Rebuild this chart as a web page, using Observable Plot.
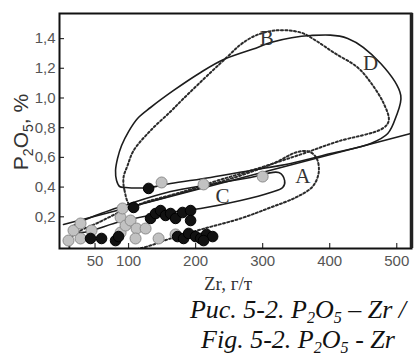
<!DOCTYPE html>
<html><head><meta charset="utf-8">
<script src="https://cdn.jsdelivr.net/npm/d3@7"></script>
<script src="https://cdn.jsdelivr.net/npm/@observablehq/plot@0.6"></script>
<style>
body{margin:0;background:#fff;}
#wrap{position:relative;width:415px;height:356px;overflow:hidden;background:#fff;}
#cap{position:absolute;left:179px;width:238px;top:296px;text-align:center;font:italic 26px/27px "Liberation Serif","Times New Roman",serif;color:#111;white-space:nowrap;}
#cap .s{font-size:0.62em;position:relative;top:0.28em;}
</style></head>
<body><div id="wrap"><div id="chart"></div>
<div id="cap">Рис. 5-2. P<span class="s">2</span>O<span class="s">5</span> – Zr /<br>Fig. 5-2. P<span class="s">2</span>O<span class="s">5</span> - Zr</div></div>
<script>
// Tick values and labels
const xTicks = [50, 100, 200, 300, 400, 500];
const xTickLabels = ["50", "100", "200", "300", "400", "500"];
const yTicks = [0.2, 0.4, 0.6, 0.8, 1.0, 1.2, 1.4];
const yTickLabels = ["0,2", "0,4", "0,6", "0,8", "1,0", "1,2", "1,4"];

// Sample points (Zr, g/t ; P2O5, %)
const grayZr   = [10.4, 17.9, 28.4, 28.4, 44.8, 88.1, 91.0, 88.1, 95.5, 103.0, 111.9, 110.4, 125.4, 144.8, 149.3, 211.9, 300, 170.1];
const grayP2O5 = [0.040, 0.108, 0.155, 0.054, 0.108, 0.195, 0.256, 0.094, 0.141, 0.175, 0.121, 0.054, 0.121, 0.054, 0.431, 0.418, 0.471, 0.081];
const blackZr   = [43.3, 59.7, 80.6, 85.1, 107.5, 129.9, 132.8, 140.3, 147.8, 155.2, 162.7, 170.1, 180.6, 192.5, 192.5, 173.1, 182.1, 189.6, 200, 207.5, 216.4, 225.4, 211.9];
const blackP2O5 = [0.054, 0.054, 0.040, 0.067, 0.263, 0.391, 0.189, 0.222, 0.242, 0.209, 0.222, 0.189, 0.229, 0.242, 0.175, 0.067, 0.054, 0.088, 0.067, 0.054, 0.081, 0.067, 0.040];

// Field D (solid outline)
const fieldDZr = [86.6, 82.1, 80.6, 83.6, 89.6, 100, 113.4, 132.8, 167.2, 207.5, 241.8, 292.5, 311.9, 371.6, 426.9, 476.1, 506, 498.5, 486.6, 461.2, 401.5, 341.8, 282.1, 222.4, 162.7, 129.9, 95.5];
const fieldDP  = [0.404, 0.444, 0.512, 0.593, 0.680, 0.774, 0.862, 0.936, 1.051, 1.172, 1.259, 1.340, 1.374, 1.421, 1.401, 1.232, 1.017, 0.869, 0.761, 0.694, 0.626, 0.559, 0.512, 0.465, 0.424, 0.397, 0.397];
// Field B (dotted outline)
const fieldBZr = [103.0, 94.0, 92.5, 98.5, 107.5, 132.8, 162.7, 182.1, 222.4, 247.8, 267.2, 289.6, 319.4, 356.7, 379.1, 406.0, 441.8, 461.2, 480.6, 488.1, 479.1, 411.9, 356.7, 292.5, 232.8, 182.1, 132.8];
const fieldBP  = [0.276, 0.377, 0.465, 0.545, 0.646, 0.781, 0.909, 0.997, 1.172, 1.279, 1.360, 1.421, 1.455, 1.441, 1.387, 1.306, 1.205, 1.104, 0.963, 0.848, 0.795, 0.707, 0.620, 0.525, 0.444, 0.370, 0.310];
// Field A (dotted outline)
const fieldAZr = [16.4, 58.2, 103.0, 147.8, 207.5, 267.2, 319.4, 349.3, 368.7, 380.6, 383.6, 374.6, 349.3, 311.9, 267.2, 207.5, 162.7, 122.4, 58.2, 13.4];
const fieldAP  = [0.067, 0.168, 0.263, 0.323, 0.397, 0.478, 0.566, 0.633, 0.640, 0.593, 0.498, 0.404, 0.330, 0.263, 0.189, 0.114, 0.054, -0.007, -0.061, -0.027];
// Field C (solid outline)
const fieldCZr = [332.8, 323.9, 282.1, 222.4, 162.7, 103.0, 50.7, 20.9, 13.4, 28.4, 88.1, 147.8, 207.5, 267.2, 311.9, 329.9];
const fieldCP  = [0.444, 0.498, 0.465, 0.418, 0.370, 0.290, 0.209, 0.148, 0.121, 0.094, 0.168, 0.222, 0.256, 0.310, 0.364, 0.397];
// Trend line
const trendZr = [3, 521];
const trendP  = [0.148, 0.761];

// Field labels
const fieldNames = ["A", "B", "C", "D"];
const fieldLabelZr = [360, 306, 240, 461];
const fieldLabelP  = [0.471, 1.401, 0.337, 1.232];

const xDomain = [-3, 522];
const yDomain = [-0.0135, 1.569];

const pts = (xs, ys) => xs.map((x, i) => ({x, y: ys[i]}));
const labels = fieldNames.map((t, i) => ({t, x: fieldLabelZr[i], y: fieldLabelP[i]}));

const dotted = {x: "x", y: "y", curve: "catmull-rom-closed", stroke: "#2b2b2b", strokeWidth: 2, strokeDasharray: "2,2.3", clip: true};
const solid = {x: "x", y: "y", curve: "catmull-rom-closed", stroke: "#1c1c1c", strokeWidth: 1.6, clip: true};

const chart = Plot.plot({
  width: 415, height: 296,
  marginLeft: 59, marginRight: 4, marginTop: 13, marginBottom: 48,
  style: {fontFamily: "'Liberation Sans', Arial, sans-serif", fontSize: "15px", color: "#555", background: "#fff"},
  x: {domain: xDomain, ticks: xTicks, tickFormat: d => xTickLabels[xTicks.indexOf(d)], tickSize: 0, tickPadding: 7, label: null},
  y: {domain: yDomain, ticks: yTicks, tickFormat: d => yTickLabels[yTicks.indexOf(d)], tickSize: 0, tickPadding: 4, label: null},
  marks: [
    Plot.line(pts(fieldAZr, fieldAP), dotted),
    Plot.line(pts(fieldBZr, fieldBP), dotted),
    Plot.line(pts(fieldDZr, fieldDP), solid),
    Plot.line(pts(fieldCZr, fieldCP), solid),
    Plot.line(pts(trendZr, trendP), {x: "x", y: "y", stroke: "#1c1c1c", strokeWidth: 1.6, clip: true}),
    Plot.tickX(xTicks, {x: d => d, insetTop: 230, stroke: "#333", strokeWidth: 1.2}),
    Plot.tickY(yTicks, {y: d => d, insetRight: 347, stroke: "#333", strokeWidth: 1.2}),
    Plot.text(labels, {x: "x", y: "y", text: "t", fontFamily: "'Liberation Serif', 'Times New Roman', serif", fontSize: 21, fill: "#333"}),
    Plot.dot(pts(grayZr, grayP2O5), {x: "x", y: "y", r: 5.5, fill: "#c2c2c2", stroke: "#8c8c8c", strokeWidth: 1}),
    Plot.dot(pts(blackZr, blackP2O5), {x: "x", y: "y", r: 5.3, fill: "#121212", stroke: "#000", strokeWidth: 1}),
    Plot.frame({stroke: "#111", strokeWidth: 2}),
    Plot.ruleX([xDomain[1]], {stroke: "#222", strokeWidth: 3.5})
  ]
});

const svg = d3.select(chart);
const yl = svg.append("text")
  .attr("transform", "translate(28,132) rotate(-90)")
  .attr("text-anchor", "middle")
  .attr("fill", "#333")
  .style("font", "21px 'Liberation Sans', Arial, sans-serif");
yl.append("tspan").text("P");
yl.append("tspan").attr("dy", 5).style("font-size", "14px").text("2");
yl.append("tspan").attr("dy", -5).text("O");
yl.append("tspan").attr("dy", 5).style("font-size", "14px").text("5");
yl.append("tspan").attr("dy", -5).text(", %");

svg.append("text")
  .attr("x", 228).attr("y", 290)
  .attr("text-anchor", "middle")
  .attr("fill", "#333")
  .style("font", "19px 'Liberation Serif', 'Times New Roman', serif")
  .text("Zr, г/т");

document.getElementById("chart").appendChild(chart);
</script>
</body></html>
